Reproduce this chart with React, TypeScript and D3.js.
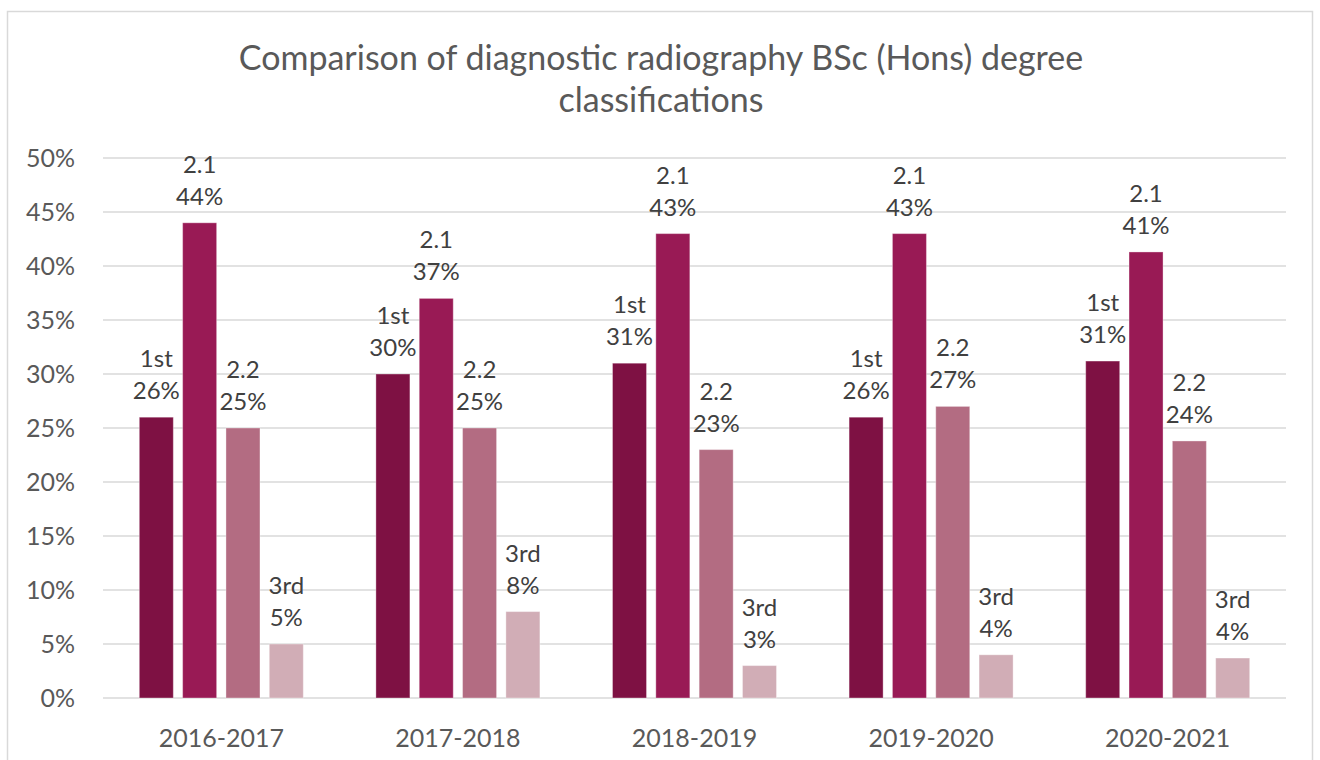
import React from "react";
import * as d3 from "d3";

const years = ["2016-2017", "2017-2018", "2018-2019", "2019-2020", "2020-2021"];
const classes = ["1st", "2.1", "2.2", "3rd"];
const first = [26, 30, 31, 26, 31.2];
const upperSecond = [44, 37, 43, 43, 41.3];
const lowerSecond = [25, 25, 23, 27, 23.8];
const third = [5, 8, 3, 4, 3.7];
const labelPct = [
  ["26%", "44%", "25%", "5%"],
  ["30%", "37%", "25%", "8%"],
  ["31%", "43%", "23%", "3%"],
  ["26%", "43%", "27%", "4%"],
  ["31%", "41%", "24%", "4%"],
];
const yTicks = [0, 5, 10, 15, 20, 25, 30, 35, 40, 45, 50];
const colors = ["#7e1143", "#991a55", "#b36c82", "#d1adb6"];
const titleLines = ["Comparison of diagnostic radiography BSc (Hons) degree", "classifications"];

const series = [first, upperSecond, lowerSecond, third];

export default function App() {
  const W = 1320;
  const H = 760;
  const left = 103;
  const right = 1286;
  const top = 158;
  const bottom = 698;
  const font = "Lato, 'Open Sans', sans-serif";
  const textColor = "#595959";

  const x0 = d3.scaleBand<string>().domain(years).range([left, right]).padding(0);
  const bw = x0.bandwidth();
  const inner = 164;
  const x1 = d3
    .scaleBand<string>()
    .domain(classes)
    .range([(bw - inner) / 2, (bw + inner) / 2])
    .paddingInner(0.215)
    .paddingOuter(0);
  const y = d3.scaleLinear().domain([0, 50]).range([bottom, top]);

  return (
    <svg
      width={W}
      height={H}
      style={{ position: "absolute", left: 0, top: 0, background: "#fff" }}
      fontFamily={font}
    >
      <rect x={0} y={0} width={W} height={H} fill="#fff" />
      <rect x={7.5} y={11.5} width={1305} height={H + 10} fill="none" stroke="#d9d9d9" strokeWidth={1.5} />
      {titleLines.map((t, i) => (
        <text key={t} x={661} y={70 + i * 42} textAnchor="middle" fontSize={34} fill={textColor}>
          {t}
        </text>
      ))}
      {yTicks.map((v) => (
        <g key={v}>
          <line x1={left} x2={right} y1={y(v)} y2={y(v)} stroke="#d9d9d9" strokeWidth={1.5} />
          <text x={75} y={y(v) + 9} textAnchor="end" fontSize={25} fill={textColor}>
            {v}%
          </text>
        </g>
      ))}
      {years.map((yr, gi) => {
        const gx = x0(yr)!;
        return (
          <g key={yr}>
            {series.map((s, si) => {
              const bx = gx + x1(classes[si])!;
              const by = y(s[gi]);
              const cx = bx + x1.bandwidth() / 2;
              return (
                <g key={si}>
                  <rect
                    x={bx}
                    y={by}
                    width={x1.bandwidth()}
                    height={bottom - by}
                    fill={colors[si]}
                    stroke="#fff"
                    strokeOpacity={0.35}
                    strokeWidth={1}
                  />
                  <text x={cx} y={by - 50} textAnchor="middle" fontSize={24} fill="#404040">
                    {classes[si]}
                  </text>
                  <text x={cx} y={by - 18} textAnchor="middle" fontSize={24} fill="#404040">
                    {labelPct[gi][si]}
                  </text>
                </g>
              );
            })}
            <text x={gx + bw / 2} y={747} textAnchor="middle" fontSize={25} fill={textColor}>
              {yr}
            </text>
          </g>
        );
      })}
    </svg>
  );
}
